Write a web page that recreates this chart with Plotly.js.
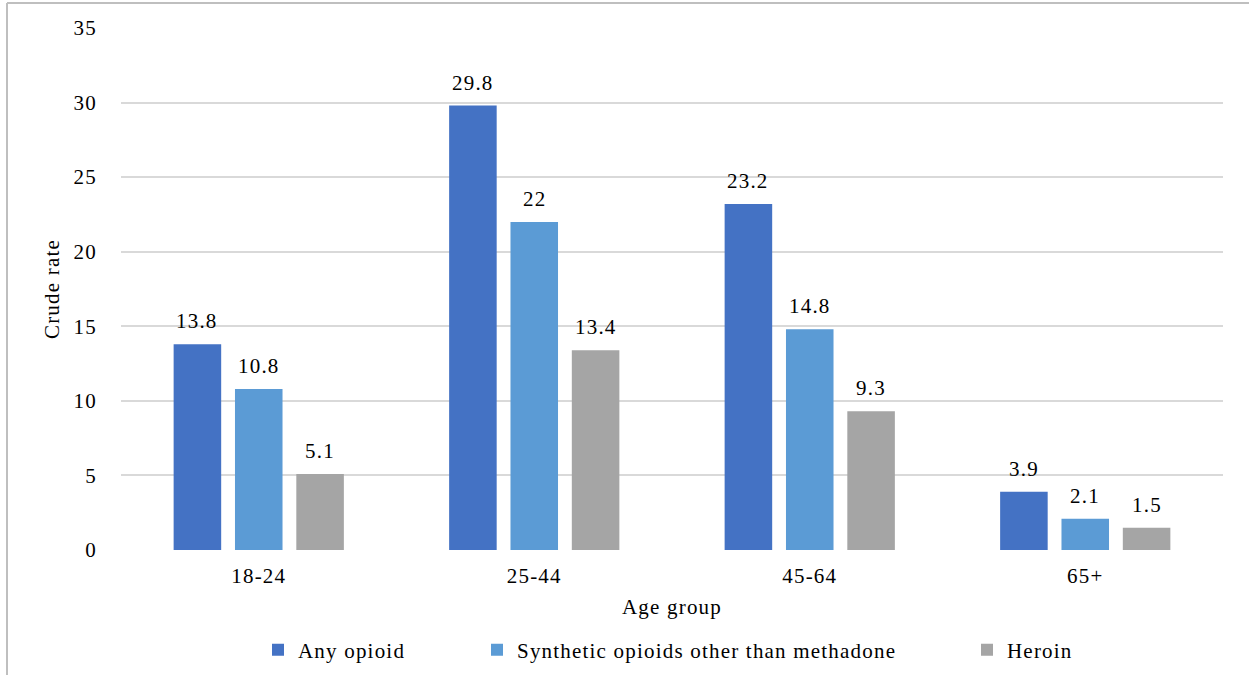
<!DOCTYPE html>
<html>
<head>
<meta charset="utf-8">
<script src="https://cdn.plot.ly/plotly-3.0.1.min.js"></script>
<style>
html,body{margin:0;padding:0;background:#fff;}
#chart{width:1249px;height:675px;}
svg text{letter-spacing:1.2px;}
</style>
</head>
<body>
<div id="chart"></div>
<script>
const categories = ["18-24", "25-44", "45-64", "65+"];
const anyOpioid = [13.8, 29.8, 23.2, 3.9];
const synthetic = [10.8, 22, 14.8, 2.1];
const heroin = [5.1, 13.4, 9.3, 1.5];
const seriesNames = ["Any opioid", "Synthetic opioids other than methadone", "Heroin"];
const colors = ["#4472C4", "#5B9BD5", "#A5A5A5"];
const yTicks = [0, 5, 10, 15, 20, 25, 30, 35];
const titleStart = "Figure 3. Opioid overdose death rates (crude rate,";
const titleEnd = "overdose deaths per 100,000 population, by age group), in the United States, 2020";

const font = {family: "Liberation Serif, Times New Roman, serif", size: 21, color: "#000"};
const titleFont = {family: "Liberation Serif, serif", size: 21, color: "#000", weight: "bold"};
const series = [anyOpioid, synthetic, heroin];
const legendIds = ["legend", "legend2", "legend3"];

const L = 121, R = 26, T = 28, B = 125, W = 1249, H = 675;
const pw = W - L - R, ph = H - T - B;
const px = v => (v - L) / pw;
const py = v => (H - B - v) / ph;

const bargap = 0.332, bargroupgap = 0.225;
const slot = (pw / categories.length) * (1 - bargap) / series.length;

const traces = series.map((vals, i) => ({
  type: "bar",
  x: categories,
  y: vals,
  name: seriesNames[i],
  marker: {color: colors[i]},
  legend: legendIds[i],
  hoverinfo: "x+y+name"
}));

const labelAnnotations = [];
series.forEach((vals, i) => {
  vals.forEach((v, j) => {
    labelAnnotations.push({
      xref: "x", yref: "y", x: categories[j], y: v,
      xshift: (i - (series.length - 1) / 2) * slot,
      yshift: 9, xanchor: "center", yanchor: "bottom",
      showarrow: false, text: String(v), font: font
    });
  });
});

const legendBase = {orientation: "h", yanchor: "middle", xanchor: "left", y: py(650),
  font: font, bgcolor: "rgba(0,0,0,0)", itemwidth: 30, tracegroupgap: 0};

const layout = {
  width: W, height: H,
  margin: {l: L, r: R, t: T, b: B, pad: 0, autoexpand: false},
  paper_bgcolor: "#fff", plot_bgcolor: "#fff",
  font: font,
  barmode: "group",
  bargap: bargap,
  bargroupgap: bargroupgap,
  xaxis: {
    type: "category", automargin: false,
    showgrid: false, zeroline: false, showline: false,
    ticks: "", tickfont: font, ticklabelstandoff: 11,
    title: {text: "Age group", font: font, standoff: 12}
  },
  yaxis: {
    range: [0, 35], tickvals: yTicks, ticktext: yTicks.map(String), automargin: false,
    showgrid: true, gridcolor: "#D9D9D9", gridwidth: 2,
    zeroline: false, showline: false, ticks: "",
    tickfont: font, ticklabelstandoff: 23,
    title: {text: "Crude rate", font: font, standoff: 8}
  },
  showlegend: true,
  legend: Object.assign({}, legendBase, {x: px(258)}),
  legend2: Object.assign({}, legendBase, {x: px(477)}),
  legend3: Object.assign({}, legendBase, {x: px(967)}),
  shapes: [
    {type: "line", xref: "paper", yref: "paper", x0: px(7), x1: px(1249), y0: py(3), y1: py(3),
     line: {color: "#BFBFBF", width: 2}},
    {type: "line", xref: "paper", yref: "paper", x0: px(7), x1: px(7), y0: py(3), y1: py(675),
     line: {color: "#BFBFBF", width: 2}}
  ],
  annotations: labelAnnotations.concat([
    {xref: "paper", yref: "paper", x: px(140), y: py(2), xanchor: "right", yanchor: "bottom",
     showarrow: false, text: titleStart, font: titleFont},
    {xref: "paper", yref: "paper", x: px(141), y: py(2), xanchor: "left", yanchor: "bottom",
     showarrow: false, text: titleEnd, font: titleFont}
  ])
};

Plotly.newPlot("chart", traces, layout, {displayModeBar: false, staticPlot: true});
</script>
</body>
</html>
